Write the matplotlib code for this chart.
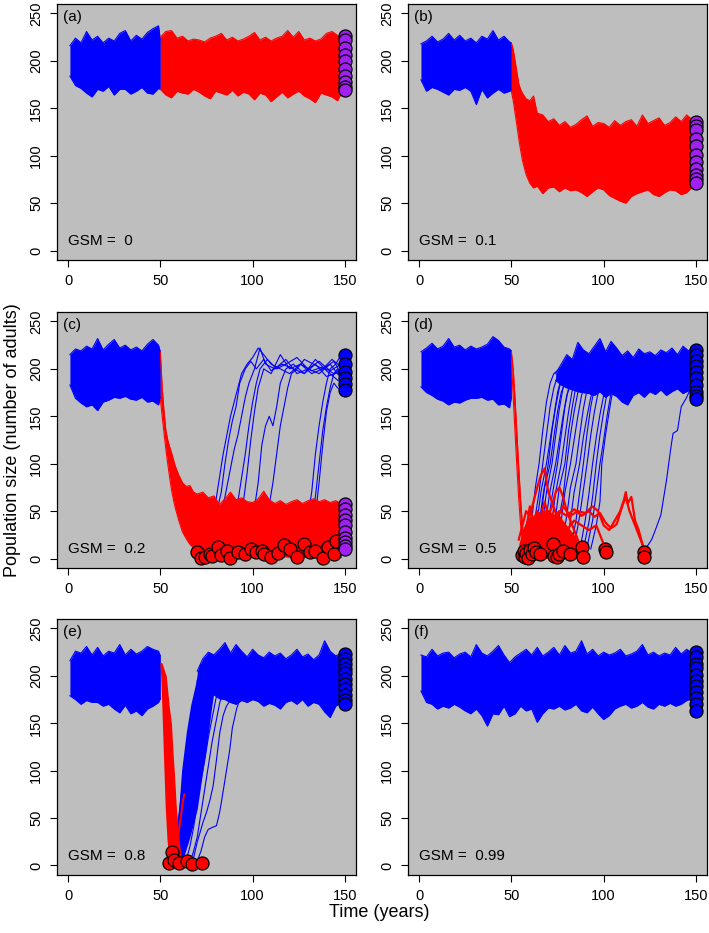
import matplotlib
matplotlib.use("Agg")
import matplotlib.pyplot as plt

plt.rcParams["font.family"] = ["Liberation Sans", "DejaVu Sans"]

BG = "#BEBEBE"
BLUE = "#0000FF"
RED = "#FF0000"
PURPLE = "#A020F0"

# year grids for the hand-read envelopes
pre_years = [1, 4, 7, 10, 13, 16, 19, 22, 25, 28, 31, 34, 37, 40, 43, 46, 49, 50]
late_years = list(range(50, 147, 3)) + [148]
all_years = list(range(1, 149, 3))

# (a) GSM = 0
a_pre_hi = [216, 224, 219, 231, 222, 226, 219, 224, 221, 229, 232, 221, 227, 223, 230, 234, 237, 222]
a_pre_lo = [184, 174, 171, 166, 162, 170, 168, 173, 164, 170, 170, 165, 168, 172, 166, 165, 171, 170]
a_red_hi = [225, 231, 232, 224, 226, 221, 223, 222, 220, 224, 226, 229, 222, 225, 221, 223, 226, 230,
            222, 225, 221, 224, 226, 232, 225, 231, 222, 224, 221, 223, 229, 231, 227, 222]
a_red_lo = [170, 164, 161, 168, 166, 165, 170, 167, 163, 160, 168, 166, 164, 169, 163, 167, 165, 159,
            166, 164, 157, 162, 167, 161, 165, 168, 163, 160, 156, 166, 164, 162, 158, 166]
a_end = [226, 222, 214, 206, 200, 191, 184, 178, 173, 169]

# (b) GSM = 0.1
b_pre_hi = [218, 221, 226, 220, 223, 229, 222, 227, 221, 224, 219, 226, 223, 232, 222, 226, 220, 219]
b_pre_lo = [180, 168, 172, 170, 167, 164, 170, 169, 172, 168, 154, 170, 161, 166, 170, 166, 168, 169]
b_red_years = [50, 51, 52, 53, 54, 55, 56, 58, 60, 62, 64, 67, 70, 73, 76, 79, 82, 85, 88, 91, 94,
               97, 100, 103, 106, 109, 112, 115, 118, 121, 124, 127, 130, 133, 136, 139, 142, 145, 148]
b_red_hi = [219, 212, 200, 188, 176, 170, 166, 160, 158, 163, 145, 143, 136, 139, 132, 136, 130, 133,
            138, 142, 131, 135, 134, 130, 137, 132, 136, 138, 131, 143, 134, 137, 140, 132, 135, 141,
            136, 143, 138]
b_red_lo = [168, 158, 145, 132, 118, 106, 95, 80, 71, 66, 68, 60, 66, 67, 62, 66, 63, 64, 61, 57,
            62, 66, 64, 58, 55, 52, 50, 57, 60, 62, 64, 59, 57, 61, 64, 63, 59, 61, 67]
b_end = [136, 131, 127, 118, 110, 101, 93, 86, 80, 75, 71]

# (c) GSM = 0.2
c_pre_hi = [215, 221, 219, 224, 221, 232, 220, 226, 231, 222, 225, 220, 223, 219, 226, 231, 225, 218]
c_pre_lo = [183, 169, 164, 160, 162, 156, 165, 167, 170, 169, 171, 168, 167, 170, 165, 166, 162, 170]
c_red_years = [50, 51, 52, 53, 54, 55, 56, 57, 58, 60, 62, 64, 66, 68, 70, 73, 76, 79, 82, 85, 88,
               91, 94, 97, 100, 103, 106, 109, 112, 115, 118, 121, 124, 127, 130, 133, 136, 139,
               142, 145, 148]
c_red_hi = [218, 180, 155, 135, 125, 118, 112, 105, 98, 88, 80, 76, 77, 70, 68, 70, 64, 66, 57, 63,
            70, 62, 64, 60, 59, 63, 71, 62, 58, 61, 57, 60, 62, 58, 61, 63, 60, 62, 59, 61, 58]
c_red_lo = [168, 150, 132, 115, 100, 86, 73, 63, 54, 40, 28, 21, 15, 11, 7, 4, 2, 1, 2, 1, 1, 2, 1,
            1, 2, 1, 1, 2, 1, 1, 2, 1, 1, 2, 1, 1, 2, 1, 1, 2, 1]
c_recover = [
    [(78, 45), (80, 60), (82, 85), (84, 110), (86, 130), (88, 150), (90, 165), (92, 180), (94, 195),
     (97, 205), (100, 212), (103, 222), (106, 215), (110, 205), (115, 200), (120, 195), (126, 205),
     (132, 198), (138, 202), (144, 195), (148, 200)],
    [(80, 45), (83, 70), (85, 100), (87, 125), (89, 145), (91, 160), (93, 185), (96, 200), (99, 208),
     (102, 200), (106, 210), (110, 198), (116, 205), (122, 200), (128, 195), (134, 205), (140, 192),
     (148, 197)],
    [(82, 40), (85, 65), (88, 95), (90, 115), (92, 130), (94, 150), (96, 170), (98, 185), (101, 200),
     (104, 222), (107, 205), (112, 200), (118, 210), (124, 195), (130, 200), (136, 208), (142, 198),
     (148, 205)],
    [(89, 40), (92, 60), (94, 85), (96, 110), (98, 140), (100, 165), (102, 185), (104, 200),
     (108, 210), (113, 200), (118, 205), (124, 212), (130, 200), (136, 195), (142, 205), (148, 190)],
    [(93, 35), (95, 60), (97, 90), (99, 125), (101, 155), (103, 180), (106, 200), (110, 195),
     (115, 215), (120, 200), (126, 205), (132, 195), (138, 200), (144, 208), (148, 195)],
    [(100, 40), (103, 80), (105, 120), (107, 140), (109, 150), (111, 140), (113, 160), (115, 185),
     (118, 200), (122, 205), (128, 195), (134, 210), (140, 198), (148, 185)],
    [(108, 45), (111, 80), (113, 110), (115, 140), (117, 160), (119, 180), (121, 195), (124, 200),
     (128, 210), (133, 205), (138, 200), (143, 210), (148, 202)],
    [(130, 45), (132, 70), (134, 110), (136, 140), (138, 165), (140, 185), (142, 200), (145, 205),
     (148, 215)],
    [(132, 40), (134, 65), (136, 100), (138, 135), (140, 160), (142, 180), (144, 195), (146, 200),
     (148, 185)],
    [(134, 45), (136, 80), (138, 120), (140, 155), (142, 175), (144, 185), (146, 180), (148, 178)],
]
c_end_blue = [215, 205, 197, 190, 184, 178]
c_end_purple = [58, 52, 46, 41, 35, 28, 22, 17, 13, 10]
c_ext_years = [70, 72, 74, 77, 78, 81, 83, 86, 88, 92, 96, 99, 102, 105, 106, 110, 114, 117, 120,
               124, 128, 131, 134, 138, 141, 144, 145]
c_ext_vals = [7, 1, 2, 5, 3, 12, 4, 8, 1, 7, 5, 10, 7, 8, 5, 2, 6, 14, 10, 2, 15, 7, 8, 1, 12, 5, 19]

# (d) GSM = 0.5
d_pre_hi = [218, 222, 227, 221, 224, 232, 223, 225, 220, 224, 221, 223, 226, 234, 230, 223, 221, 219]
d_pre_lo = [181, 175, 172, 168, 166, 162, 165, 164, 167, 169, 169, 170, 167, 168, 162, 163, 159, 170]
d_drop_years = [50, 51, 52, 53, 54, 55, 56, 57, 58]
d_drop_hi = [218, 200, 168, 132, 96, 62, 35, 18, 10]
d_drop_lo = [210, 170, 132, 96, 62, 35, 18, 8, 4]
d_low_years = [54, 56, 58, 60, 62, 64, 66, 68, 70, 72, 74, 76, 78, 80, 82, 84, 86, 88]
d_low_hi = [15, 30, 40, 45, 42, 50, 48, 52, 45, 50, 42, 46, 40, 35, 30, 25, 18, 10]
d_red_lines = [
    [(54, 20), (56, 35), (58, 50), (60, 45), (62, 60), (64, 75), (66, 88), (68, 95), (70, 70),
     (72, 60), (74, 48), (76, 30), (78, 15), (80, 5)],
    [(56, 15), (58, 30), (60, 55), (62, 40), (64, 50), (66, 45), (68, 60), (70, 45), (72, 55),
     (74, 70), (76, 75), (78, 65), (80, 50), (82, 40), (84, 30), (86, 20), (88, 10)],
    [(58, 10), (62, 30), (66, 40), (70, 50), (74, 40), (78, 55), (82, 45), (86, 50), (90, 48),
     (94, 55), (97, 50), (100, 35), (103, 30), (106, 40), (109, 50), (111, 62), (112, 70),
     (113, 58), (115, 65), (117, 40), (119, 30), (121, 15), (122, 8)],
    [(60, 10), (64, 25), (68, 35), (72, 42), (76, 50), (80, 45), (84, 52), (88, 45), (92, 50),
     (95, 44), (98, 48), (101, 38), (104, 32), (107, 36), (110, 55), (112, 65), (114, 50),
     (116, 40), (118, 30), (120, 20), (122, 10)],
    [(76, 10), (80, 30), (84, 40), (88, 35), (92, 30), (96, 35), (98, 25), (100, 15), (101, 10)],
]
d_recover = [
    [(58, 8), (61, 40), (63, 75), (65, 100), (67, 135), (69, 165), (71, 185), (73, 195), (76, 200)],
    [(60, 10), (63, 45), (65, 70), (67, 100), (69, 130), (71, 160), (73, 180), (75, 192), (78, 198)],
    [(61, 12), (64, 40), (66, 70), (69, 100), (71, 125), (73, 150), (75, 175), (77, 190), (80, 205)],
    [(62, 8), (65, 35), (67, 65), (70, 100), (72, 135), (74, 160), (76, 180), (78, 195), (81, 200)],
    [(63, 10), (66, 45), (68, 75), (71, 100), (73, 128), (75, 155), (77, 175), (80, 190), (83, 200)],
    [(64, 12), (67, 40), (69, 70), (72, 100), (74, 130), (76, 158), (78, 180), (81, 195), (84, 210)],
    [(66, 10), (69, 45), (71, 72), (74, 100), (76, 125), (78, 150), (80, 172), (83, 188), (86, 200)],
    [(67, 8), (70, 38), (72, 65), (75, 100), (77, 130), (79, 160), (81, 180), (84, 195), (87, 205)],
    [(69, 12), (72, 40), (74, 70), (77, 100), (79, 128), (81, 155), (83, 178), (86, 195), (89, 200)],
    [(71, 10), (74, 45), (76, 75), (79, 100), (81, 135), (83, 160), (85, 182), (88, 195), (91, 205)],
    [(72, 8), (75, 35), (78, 65), (80, 100), (82, 130), (84, 155), (86, 175), (89, 190), (92, 200)],
    [(74, 10), (77, 40), (79, 70), (82, 100), (84, 125), (86, 150), (88, 172), (91, 190), (94, 198)],
    [(77, 12), (80, 45), (82, 75), (85, 100), (87, 130), (89, 158), (91, 178), (94, 192), (97, 205)],
    [(79, 8), (82, 40), (84, 70), (87, 100), (89, 128), (91, 150), (93, 170), (96, 188), (99, 200)],
    [(82, 10), (85, 40), (87, 70), (89, 100), (91, 132), (93, 160), (95, 180), (98, 195), (101, 205)],
    [(84, 12), (87, 45), (89, 72), (91, 100), (93, 130), (95, 155), (97, 175), (100, 190), (103, 200)],
    [(87, 8), (90, 40), (92, 68), (94, 100), (96, 128), (98, 152), (100, 172), (103, 188), (106, 198)],
    [(89, 10), (92, 38), (94, 65), (96, 100), (98, 130), (100, 155), (102, 176), (105, 190), (108, 200)],
    [(91, 12), (94, 40), (96, 70), (98, 100), (100, 125), (102, 152), (104, 175), (106, 185), (109, 195)],
    [(93, 10), (96, 35), (98, 60), (99, 100), (101, 130), (103, 155), (105, 178), (107, 188), (110, 198)],
    [(122, 10), (124, 14), (126, 20), (128, 30), (131, 46), (134, 82), (136.5, 118), (137.6, 132),
     (140, 135), (142, 160), (145, 170), (147, 179), (148, 185)],
]
d_top_years = list(range(74, 147, 3)) + [148]
d_top_hi = [195, 205, 215, 210, 228, 220, 216, 224, 232, 218, 229, 222, 214, 219, 212, 221, 216,
            218, 214, 220, 217, 222, 215, 224, 219, 222]
d_top_lo = [188, 183, 180, 178, 176, 175, 174, 172, 176, 170, 174, 171, 165, 162, 172, 175, 170,
            176, 173, 178, 172, 176, 179, 174, 177, 180]
d_end_blue = [220, 215, 208, 203, 197, 190, 183, 176, 171, 168]
d_ext_years = [56, 57, 57.5, 58, 59, 60, 61, 62, 63.5, 65.5, 72.5, 73, 74.5, 76, 78, 81.5, 88, 89,
               100.5, 101.5, 122, 122]
d_ext_vals = [4, 8, 2, 6, 1, 9, 5, 11, 7, 5, 15, 3, 2, 5, 8, 5, 12, 2, 10, 7, 7, 2]

# (e) GSM = 0.8
e_pre_hi = [216, 226, 224, 231, 222, 230, 221, 226, 224, 233, 222, 228, 223, 226, 231, 228, 226, 221]
e_pre_lo = [179, 175, 170, 174, 172, 172, 168, 170, 165, 161, 169, 160, 163, 158, 165, 168, 172, 176]
e_drop_vals = [214, 200, 168, 150, 115, 98, 63, 27, 10, 3]
e_drop_left = [49.7, 50.2, 50.8, 51.1, 51.7, 52.0, 52.6, 53.6, 54.5, 55.2]
e_drop_right = [50.8, 53.2, 54.8, 56.0, 57.0, 57.6, 58.6, 60.2, 61.2, 61.6]
e_red_spike = [(58, 20), (60, 35), (61, 50), (62, 65), (63, 75)]
e_core_vals = [5, 30, 60, 100, 140, 170, 195]
e_core_left = [57, 58.5, 60, 61.5, 64, 66.5, 69.5]
e_core_right = [62, 66, 70, 73, 76, 78, 80]
e_recover = [
    [(62, 5), (64, 25), (66, 45), (68, 70), (70, 95), (72, 120), (74, 145), (76, 165), (78, 185), (80, 195)],
    [(64, 5), (66, 20), (68, 40), (70, 65), (72, 90), (74, 110), (76, 135), (78, 155), (80, 175), (82, 190)],
    [(66, 3), (68, 15), (70, 30), (72, 55), (74, 80), (76, 105), (78, 130), (80, 150), (82, 170),
     (84, 185), (86, 195)],
    [(68, 8), (70, 25), (71.4, 34), (73, 45), (75, 56), (77, 70), (78.6, 84), (80, 105), (82.2, 140),
     (84, 158), (85.8, 168), (89.5, 179)],
    [(70, 5), (72, 15), (74, 30), (75.9, 38), (78, 40), (80.4, 42), (82, 55), (83, 66), (85, 90),
     (87.6, 122), (89, 145), (91.3, 165), (93, 175), (95, 185)],
    [(60, 10), (62, 40), (64, 75), (66, 110), (68, 150), (70, 180), (72, 200)],
    [(57, 5), (59, 35), (61, 69), (63, 100), (64.6, 122), (66.5, 150), (68.2, 168), (70, 195),
     (71.8, 212), (73, 205)],
]
e_top_years = list(range(70, 146, 3)) + [148]
e_top_hi = [205, 218, 225, 222, 228, 235, 224, 233, 226, 220, 228, 222, 219, 225, 221, 224, 218,
            222, 228, 220, 223, 217, 222, 237, 226, 221, 224]
e_top_lo = [195, 190, 185, 180, 176, 175, 172, 170, 174, 172, 175, 173, 168, 171, 169, 165, 172,
            174, 170, 175, 168, 172, 170, 162, 156, 168, 172]
e_end_blue = [223, 218, 212, 207, 203, 197, 191, 186, 180, 174, 170]
e_ext_years = [54.8, 56.1, 57.5, 60.2, 64.2, 67.2, 72.3]
e_ext_vals = [3, 14, 6, 3, 5, 2, 3]

# (f) GSM = 0.99
f_hi = [222, 220, 228, 221, 224, 225, 219, 223, 225, 220, 233, 224, 221, 226, 232, 222, 214, 220,
        224, 228, 222, 230, 221, 225, 230, 222, 232, 224, 226, 237, 223, 228, 221, 225, 222, 224,
        228, 221, 223, 226, 233, 222, 225, 221, 224, 222, 230, 223, 228, 224]
f_lo = [184, 172, 170, 165, 168, 166, 170, 167, 163, 160, 165, 158, 147, 160, 159, 168, 157, 160,
        168, 163, 165, 151, 160, 166, 165, 168, 164, 166, 170, 163, 161, 167, 160, 154, 158, 165,
        168, 170, 166, 168, 172, 167, 165, 170, 168, 171, 168, 170, 174, 176]
f_end_blue = [225, 220, 213, 208, 201, 195, 189, 183, 177, 170, 163]

letters = ["(a)", "(b)", "(c)", "(d)", "(e)", "(f)"]
gsm = ["0", "0.1", "0.2", "0.5", "0.8", "0.99"]


def band(ax, years, lo, hi, color, z=2):
    ax.fill_between(years, lo, hi, color=color, linewidth=0, zorder=z)
    ax.plot(years, hi, color=color, lw=0.8, zorder=z)
    ax.plot(years, lo, color=color, lw=0.8, zorder=z)


def path(ax, pts, color, lw=0.8, z=2):
    ax.plot([p[0] for p in pts], [p[1] for p in pts], color=color, lw=lw, zorder=z)


def dots(ax, xs, ys, color):
    ax.scatter(xs, ys, s=88, c=color, edgecolors="black", linewidths=0.9,
               zorder=6, clip_on=False)


def ends(ax, vals, color):
    dots(ax, [150] * len(vals), vals, color)


fig = plt.figure(figsize=(7.09, 9.33), dpi=100)
lefts = [0.0804, 0.5755]
bottoms = [0.7213, 0.3912, 0.0622]
axes = []
for r in range(3):
    for c in range(2):
        ax = fig.add_axes([lefts[c], bottoms[r], 0.4217, 0.2744])
        ax.set_facecolor(BG)
        ax.set_xlim(-6, 156)
        ax.set_ylim(-10, 260)
        ax.set_xticks([0, 50, 100, 150])
        ax.set_yticks([0, 50, 100, 150, 200, 250])
        ax.tick_params(direction="out", length=5, width=0.8, labelsize=10.5, pad=5)
        ax.tick_params(axis="y", labelrotation=90)
        for lab in ax.get_yticklabels():
            lab.set_va("center")
        for sp in ax.spines.values():
            sp.set_linewidth(0.9)
        i = r * 2 + c
        ax.text(0.02, 0.975, letters[i], transform=ax.transAxes, ha="left", va="top", fontsize=11)
        ax.text(0, 10, "GSM =  " + gsm[i], ha="left", va="center", fontsize=11, zorder=7)
        axes.append(ax)

ax_a, ax_b, ax_c, ax_d, ax_e, ax_f = axes

# (a)
band(ax_a, pre_years, a_pre_lo, a_pre_hi, BLUE)
band(ax_a, late_years, a_red_lo, a_red_hi, RED)
ends(ax_a, a_end, PURPLE)

# (b)
band(ax_b, pre_years, b_pre_lo, b_pre_hi, BLUE)
band(ax_b, b_red_years, b_red_lo, b_red_hi, RED)
ends(ax_b, b_end, PURPLE)

# (c)
band(ax_c, pre_years, c_pre_lo, c_pre_hi, BLUE)
for pts in c_recover:
    path(ax_c, pts, BLUE)
band(ax_c, c_red_years, c_red_lo, c_red_hi, RED, z=3)
dots(ax_c, c_ext_years, c_ext_vals, RED)
ends(ax_c, c_end_blue, BLUE)
ends(ax_c, c_end_purple, PURPLE)

# (d)
band(ax_d, pre_years, d_pre_lo, d_pre_hi, BLUE)
for pts in d_recover:
    path(ax_d, pts, BLUE)
band(ax_d, d_top_years, d_top_lo, d_top_hi, BLUE)
band(ax_d, d_drop_years, d_drop_lo, d_drop_hi, RED, z=3)
ax_d.fill_between(d_low_years, 0, d_low_hi, color=RED, linewidth=0, zorder=3)
for pts in d_red_lines:
    path(ax_d, pts, RED, lw=1.6, z=3)
dots(ax_d, d_ext_years, d_ext_vals, RED)
ends(ax_d, d_end_blue, BLUE)

# (e)
band(ax_e, pre_years, e_pre_lo, e_pre_hi, BLUE)
ax_e.fill_betweenx(e_core_vals, e_core_left, e_core_right, color=BLUE, linewidth=0, zorder=2)
for pts in e_recover:
    path(ax_e, pts, BLUE)
band(ax_e, e_top_years, e_top_lo, e_top_hi, BLUE)
ax_e.fill_betweenx(e_drop_vals, e_drop_left, e_drop_right, color=RED, linewidth=0, zorder=3)
path(ax_e, e_red_spike, RED, lw=1.4, z=3)
dots(ax_e, e_ext_years, e_ext_vals, RED)
ends(ax_e, e_end_blue, BLUE)

# (f)
band(ax_f, all_years, f_lo, f_hi, BLUE)
ends(ax_f, f_end_blue, BLUE)

fig.text(0.017, 0.528, "Population size (number of adults)", rotation=90,
         ha="center", va="center", fontsize=13)
fig.text(0.535, 0.0225, "Time (years)", ha="center", va="center", fontsize=13)

fig.savefig("out.png", dpi=100)
